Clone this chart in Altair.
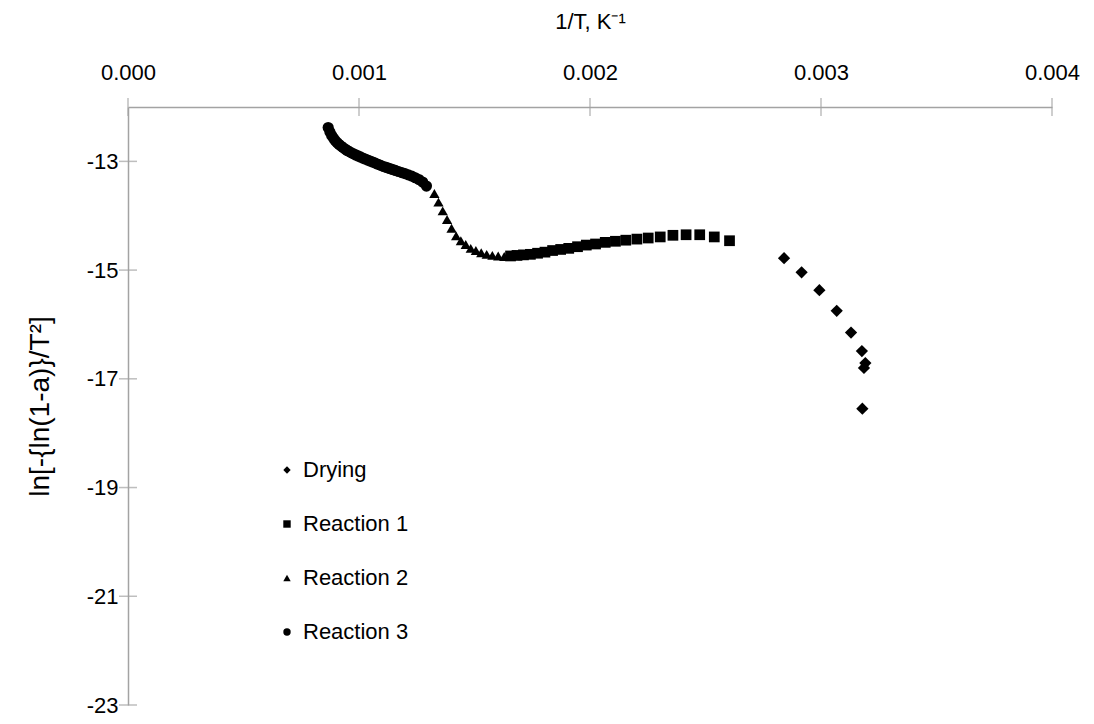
import altair as alt
import pandas as pd

# Series names and their marker shapes / sizes
SERIES = ["Drying", "Reaction 1", "Reaction 2", "Reaction 3"]
SHAPES = ["diamond", "square", "triangle-up", "circle"]
SIZES = {"Drying": 150, "Reaction 1": 115, "Reaction 2": 105, "Reaction 3": 125}

# 1/T (K^-1) and ln[-{ln(1-a)}/T^2] for each stage
DRY_X = [0.002840, 0.002916, 0.002993, 0.003068, 0.003130, 0.003177, 0.003192, 0.003186, 0.003179]
DRY_Y = [-14.78, -15.04, -15.37, -15.75, -16.15, -16.49, -16.71, -16.80, -17.55]

R1_X = [0.001656, 0.001684, 0.001712, 0.001742, 0.001773, 0.001805, 0.001838, 0.001873,
        0.001908, 0.001946, 0.001984, 0.002024, 0.002066, 0.002110, 0.002155, 0.002203,
        0.002252, 0.002304, 0.002359, 0.002416, 0.002475, 0.002538, 0.002604]
R1_Y = [-14.74, -14.73, -14.72, -14.71, -14.69, -14.67, -14.64, -14.62,
        -14.60, -14.57, -14.54, -14.52, -14.49, -14.47, -14.45, -14.43,
        -14.41, -14.39, -14.36, -14.35, -14.35, -14.39, -14.46]

R2_X = [0.0013263, 0.0013441, 0.0013624, 0.0013812, 0.0014006, 0.0014205, 0.0014409, 0.0014620,
        0.0014837, 0.0015060, 0.0015291, 0.0015528, 0.0015773, 0.0016026, 0.0016287]
R2_Y = [-13.59, -13.75, -13.91, -14.07, -14.23, -14.37, -14.46, -14.53,
        -14.60, -14.64, -14.68, -14.71, -14.73, -14.74, -14.75]

R3_X = [0.00086655, 0.00087413, 0.00088183, 0.00088968, 0.00089767, 0.00090580, 0.00091408,
        0.00092251, 0.00093110, 0.00093985, 0.00094877, 0.00095785, 0.00096712, 0.00097656,
        0.00098619, 0.00099602, 0.00100604, 0.00101626, 0.00102669, 0.00103734, 0.00104822,
        0.00105932, 0.00107066, 0.00108225, 0.00109409, 0.00110619, 0.00111857, 0.00113122,
        0.00114416, 0.00115741, 0.00117096, 0.00118483, 0.00119904, 0.00121359, 0.00122850,
        0.00124378, 0.00125945, 0.00127551, 0.00129199]
R3_Y = [-12.377, -12.460, -12.525, -12.576, -12.622, -12.659, -12.690,
        -12.720, -12.747, -12.773, -12.799, -12.821, -12.843, -12.863,
        -12.882, -12.900, -12.919, -12.939, -12.957, -12.976, -12.994,
        -13.013, -13.033, -13.053, -13.073, -13.094, -13.112, -13.130,
        -13.149, -13.167, -13.186, -13.206, -13.226, -13.248, -13.272,
        -13.302, -13.335, -13.381, -13.454]

# Axis ranges and tick values
X_DOMAIN = [0.0, 0.004]
Y_DOMAIN = [-23, -12]
X_TICKS = [0.000, 0.001, 0.002, 0.003, 0.004]
Y_TICKS = [-23, -21, -19, -17, -15, -13]

AXIS_GRAY = "#A3A3A3"
FONT = "Liberation Sans"
FONT_SIZE = 22

rows = []
for name, xs, ys in [("Drying", DRY_X, DRY_Y), ("Reaction 1", R1_X, R1_Y),
                     ("Reaction 2", R2_X, R2_Y), ("Reaction 3", R3_X, R3_Y)]:
    rows += [{"series": name, "inv_t": x, "val": y, "msize": SIZES[name]}
             for x, y in zip(xs, ys)]
df = pd.DataFrame(rows)

# Shared position encodings so every layer merges into the same two axes
x_enc = alt.X("inv_t:Q", scale=alt.Scale(domain=X_DOMAIN, nice=False, zero=False),
              axis=alt.Axis(orient="top", values=X_TICKS, format=".3f", title="1/T, K⁻¹",
                            titleFontSize=FONT_SIZE,
                            ticks=False, grid=False, labelFlush=False,
                            labelPadding=23, titlePadding=28))
y_enc = alt.Y("val:Q", scale=alt.Scale(domain=Y_DOMAIN, nice=False, zero=False),
              axis=alt.Axis(orient="left", values=Y_TICKS, labelExpr="'' + datum.value",
                            title="ln[-{ln(1-a)}/T²]", titleFontSize=28,
                            ticks=False, grid=False,
                            labelFlush=False, labelPadding=10, titlePadding=32))

points = alt.Chart(df).mark_point(filled=True, opacity=1, color="black", strokeWidth=0).encode(
    x=x_enc,
    y=y_enc,
    shape=alt.Shape("series:N", scale=alt.Scale(domain=SERIES, range=SHAPES),
                    legend=alt.Legend(title=None, orient="none", legendX=148, legendY=352,
                                      symbolSize=55, symbolFillColor="black",
                                      symbolStrokeColor="black", symbolStrokeWidth=0,
                                      labelFontSize=FONT_SIZE, labelFont=FONT,
                                      labelColor="black", rowPadding=32, labelOffset=5)),
    size=alt.Size("msize:Q", scale=None),
)

# Cross-style tick marks straddling both axis lines
xt = pd.DataFrame({"inv_t": X_TICKS, "val": [Y_DOMAIN[1]] * len(X_TICKS)})
yt = pd.DataFrame({"inv_t": [X_DOMAIN[0]] * len(Y_TICKS), "val": Y_TICKS})

x_ticks = alt.Chart(xt).mark_tick(orient="vertical", size=18, thickness=1.5, color=AXIS_GRAY).encode(
    x=x_enc, y=y_enc)
y_ticks = alt.Chart(yt).mark_tick(orient="horizontal", size=18, thickness=1.5, color=AXIS_GRAY).encode(
    x=x_enc, y=y_enc)

chart = alt.layer(points, x_ticks, y_ticks).properties(
    width=924, height=598,
    autosize=alt.AutoSizeParams(type="none"),
    padding={"left": 128, "top": 107, "right": 42, "bottom": 19},
    background="white",
).configure_view(stroke=None).configure_axis(
    domainColor=AXIS_GRAY, domainWidth=1.5,
    labelFont=FONT, labelFontSize=FONT_SIZE, labelColor="black",
    titleFont=FONT, titleFontWeight="normal", titleColor="black",
)

chart.save("out.html", embed_options={"renderer": "svg", "actions": False})
